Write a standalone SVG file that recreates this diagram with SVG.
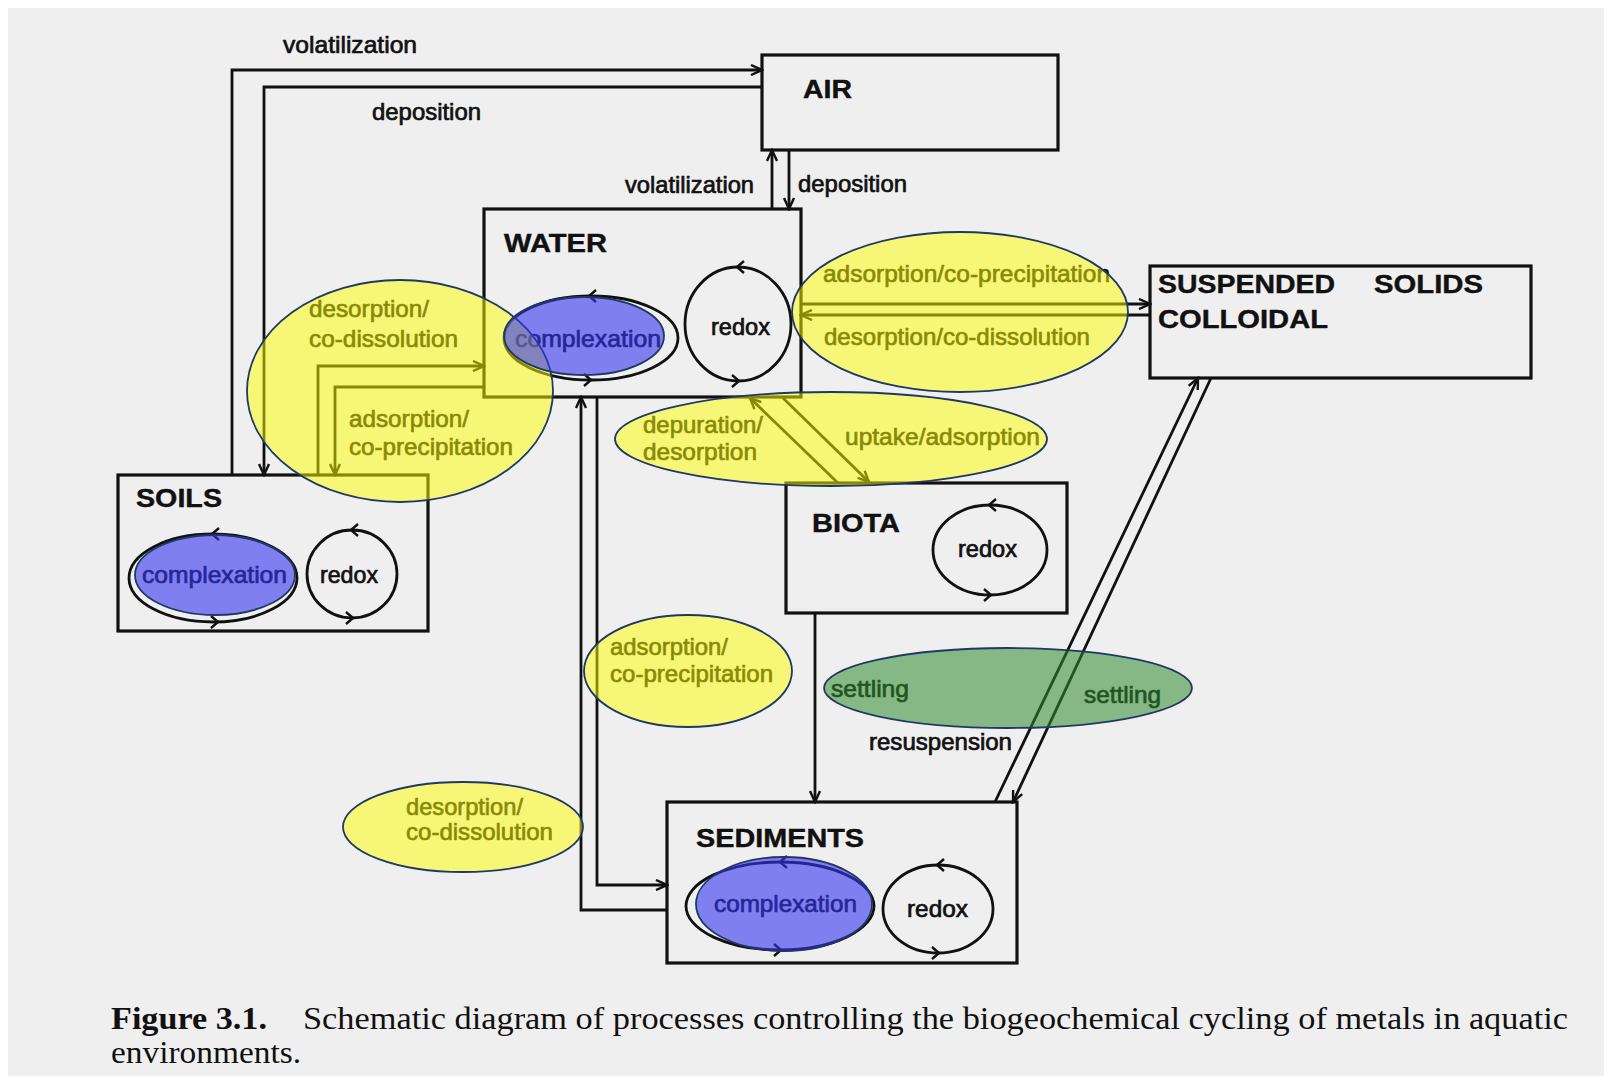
<svg xmlns="http://www.w3.org/2000/svg" width="1612" height="1081" viewBox="0 0 1612 1081">
<defs>
<marker id="ah" markerUnits="userSpaceOnUse" markerWidth="14" markerHeight="12" refX="12" refY="6" orient="auto">
<path d="M1,1 L12,6 L1,11" fill="none" stroke="#111" stroke-width="2.4"/>
</marker>
<style>
.box{fill:none;stroke:#111;stroke-width:3.2}
.ln{fill:none;stroke:#111;stroke-width:2.8;marker-end:url(#ah)}
.cyc{fill:none;stroke:#111;stroke-width:2.8}
.chev{fill:none;stroke:#111;stroke-width:2.4}
.nm{font-family:"Liberation Sans",Arial,sans-serif;font-weight:bold;font-size:25px;fill:#111;stroke:#111;stroke-width:0.4}
.lb{font-family:"Liberation Sans",Arial,sans-serif;font-size:24px;fill:#111;stroke:#111;stroke-width:0.7}
.cap{font-family:"Liberation Serif","Times New Roman",serif;font-size:31px;fill:#111}
.yel{fill:#ffff00;fill-opacity:0.5;stroke:#1f3864;stroke-width:1.8}
.blu{fill:#3333f0;fill-opacity:0.6;stroke:#1f3864;stroke-width:1.8}
.grn{fill:#2e8b2e;fill-opacity:0.55;stroke:#1f3864;stroke-width:1.8}
</style>
</defs>
<rect x="0" y="0" width="1612" height="1081" fill="#ffffff"/>
<rect x="8" y="8" width="1596" height="1068" fill="#efefef"/>

<g id="connectors">
<path class="ln" d="M232,475 V70 H762"/>
<path class="ln" d="M762,87 H264 V475"/>
<path class="ln" d="M772,209 V150"/>
<path class="ln" d="M789,150 V209"/>
<path class="ln" d="M318,475 V366 H484"/>
<path class="ln" d="M484,387 H335 V475"/>
<path class="ln" d="M801,304 H1150"/>
<path class="ln" d="M1150,315 H801"/>
<path class="ln" d="M838,483 L750,398"/>
<path class="ln" d="M783,398 L869,482"/>
<path class="ln" d="M667,910 H581 V397"/>
<path class="ln" d="M597,397 V885 H667"/>
<path class="ln" d="M815,613 V802"/>
<path class="ln" d="M995,802 L1198,378"/>
<path class="ln" d="M1211,378 L1013,802"/>
<text class="lb" x="283" y="53" textLength="134" lengthAdjust="spacingAndGlyphs">volatilization</text>
<text class="lb" x="372" y="120" textLength="109" lengthAdjust="spacingAndGlyphs">deposition</text>
<text class="lb" x="625" y="193" textLength="129" lengthAdjust="spacingAndGlyphs">volatilization</text>
<text class="lb" x="798" y="192" textLength="109" lengthAdjust="spacingAndGlyphs">deposition</text>
<text class="lb" x="823" y="282" textLength="287" lengthAdjust="spacingAndGlyphs">adsorption/co-precipitation</text>
<text class="lb" x="824" y="345" textLength="266" lengthAdjust="spacingAndGlyphs">desorption/co-dissolution</text>
<text class="lb" x="309" y="317" textLength="120" lengthAdjust="spacingAndGlyphs">desorption/</text>
<text class="lb" x="309" y="347" textLength="149" lengthAdjust="spacingAndGlyphs">co-dissolution</text>
<text class="lb" x="349" y="427" textLength="120" lengthAdjust="spacingAndGlyphs">adsorption/</text>
<text class="lb" x="349" y="455" textLength="164" lengthAdjust="spacingAndGlyphs">co-precipitation</text>
<text class="lb" x="643" y="433" textLength="120" lengthAdjust="spacingAndGlyphs">depuration/</text>
<text class="lb" x="643" y="460" textLength="114" lengthAdjust="spacingAndGlyphs">desorption</text>
<text class="lb" x="845" y="445" textLength="195" lengthAdjust="spacingAndGlyphs">uptake/adsorption</text>
<text class="lb" x="610" y="655" textLength="118" lengthAdjust="spacingAndGlyphs">adsorption/</text>
<text class="lb" x="610" y="682" textLength="163" lengthAdjust="spacingAndGlyphs">co-precipitation</text>
<text class="lb" x="406" y="815" textLength="117" lengthAdjust="spacingAndGlyphs">desorption/</text>
<text class="lb" x="406" y="840" textLength="147" lengthAdjust="spacingAndGlyphs">co-dissolution</text>
<text class="lb" x="831" y="697" textLength="78" lengthAdjust="spacingAndGlyphs">settling</text>
<text class="lb" x="1084" y="703" textLength="77" lengthAdjust="spacingAndGlyphs">settling</text>
<text class="lb" x="869" y="750" textLength="143" lengthAdjust="spacingAndGlyphs">resuspension</text>
</g>

<g id="node-air">
<rect class="box" x="762" y="55" width="296" height="95"/>
<text class="nm" x="803" y="98" textLength="49" lengthAdjust="spacingAndGlyphs">AIR</text>
</g>

<g id="node-water">
<rect class="box" x="484" y="209" width="317" height="188"/>
<text class="nm" x="504" y="252" textLength="103" lengthAdjust="spacingAndGlyphs">WATER</text>
<ellipse class="cyc" cx="591" cy="338" rx="87" ry="42"/>
<path class="chev" d="M596,290 L589,296 L596,302 M584,374 L591,380 L584,386"/>
<text class="lb" x="515" y="347" textLength="146" lengthAdjust="spacingAndGlyphs">complexation</text>
<ellipse class="cyc" cx="738" cy="324" rx="53" ry="57"/>
<path class="chev" d="M744,261 L737,267 L744,273 M732,375 L739,381 L732,387"/>
<text class="lb" x="711" y="335" textLength="59" lengthAdjust="spacingAndGlyphs">redox</text>
</g>

<g id="node-suspended">
<rect class="box" x="1150" y="266" width="381" height="112"/>
<text class="nm" y="293"><tspan x="1158" textLength="177" lengthAdjust="spacingAndGlyphs">SUSPENDED</tspan><tspan x="1374" textLength="109" lengthAdjust="spacingAndGlyphs">SOLIDS</tspan></text>
<text class="nm" x="1158" y="328" textLength="170" lengthAdjust="spacingAndGlyphs">COLLOIDAL</text>
</g>

<g id="node-soils">
<rect class="box" x="118" y="475" width="310" height="156"/>
<text class="nm" x="136" y="507" textLength="86" lengthAdjust="spacingAndGlyphs">SOILS</text>
<ellipse class="cyc" cx="213" cy="578" rx="84" ry="44"/>
<path class="chev" d="M219,528 L212,534 L219,540 M211,616 L218,622 L211,628"/>
<text class="lb" x="142" y="583" textLength="145" lengthAdjust="spacingAndGlyphs">complexation</text>
<ellipse class="cyc" cx="352" cy="574" rx="45" ry="44"/>
<path class="chev" d="M358,524 L351,530 L358,536 M346,612 L353,618 L346,624"/>
<text class="lb" x="320" y="583" textLength="58" lengthAdjust="spacingAndGlyphs">redox</text>
</g>

<g id="node-biota">
<rect class="box" x="786" y="483" width="281" height="130"/>
<text class="nm" x="812" y="532" textLength="88" lengthAdjust="spacingAndGlyphs">BIOTA</text>
<ellipse class="cyc" cx="990" cy="550" rx="57" ry="45"/>
<path class="chev" d="M996,499 L989,505 L996,511 M984,589 L991,595 L984,601"/>
<text class="lb" x="958" y="557" textLength="59" lengthAdjust="spacingAndGlyphs">redox</text>
</g>

<g id="node-sediments">
<rect class="box" x="667" y="802" width="350" height="161"/>
<text class="nm" x="696" y="847" textLength="168" lengthAdjust="spacingAndGlyphs">SEDIMENTS</text>
<ellipse class="cyc" cx="780" cy="906" rx="94" ry="44"/>
<path class="chev" d="M787,856 L780,862 L787,868 M774,944 L781,950 L774,956"/>
<text class="lb" x="714" y="912" textLength="143" lengthAdjust="spacingAndGlyphs">complexation</text>
<ellipse class="cyc" cx="938" cy="909" rx="55" ry="44"/>
<path class="chev" d="M944,859 L937,865 L944,871 M932,947 L939,953 L932,959"/>
<text class="lb" x="907" y="917" textLength="61" lengthAdjust="spacingAndGlyphs">redox</text>
</g>

<g id="highlights">
<ellipse class="yel" cx="400" cy="391" rx="153" ry="111"/>
<ellipse class="yel" cx="960" cy="312" rx="168" ry="80"/>
<ellipse class="yel" cx="831" cy="439" rx="216" ry="47"/>
<ellipse class="yel" cx="688" cy="671" rx="104" ry="56"/>
<ellipse class="yel" cx="463" cy="827" rx="120" ry="45"/>
<ellipse class="grn" cx="1008" cy="688" rx="184" ry="40"/>
<ellipse class="blu" cx="584" cy="336" rx="80" ry="39"/>
<ellipse class="blu" cx="215" cy="575" rx="80" ry="40"/>
<ellipse class="blu" cx="784" cy="904" rx="88" ry="47"/>
</g>

<g id="caption">
<text class="cap" x="111" y="1029" font-weight="bold" textLength="156" lengthAdjust="spacingAndGlyphs">Figure 3.1.</text>
<text class="cap" x="303" y="1029" textLength="1265" lengthAdjust="spacingAndGlyphs">Schematic diagram of processes controlling the biogeochemical cycling of metals in aquatic</text>
<text class="cap" x="111" y="1063" textLength="190" lengthAdjust="spacingAndGlyphs">environments.</text>
</g>
</svg>
